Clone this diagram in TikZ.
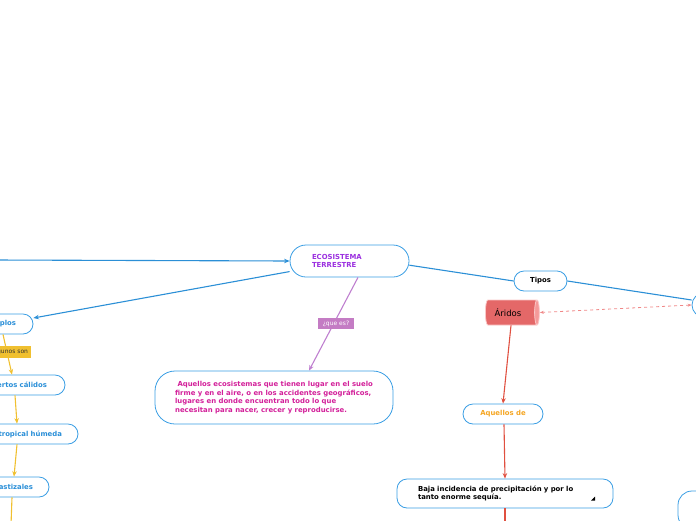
\documentclass[tikz,border=0pt]{standalone}
\usepackage{fontspec}
\setmainfont{DejaVu Sans}
\usetikzlibrary{shapes.geometric,arrows.meta}
\definecolor{bborder}{HTML}{3A9EE4}
\definecolor{bline}{HTML}{2B8FD6}
\definecolor{yline}{HTML}{F0C030}
\definecolor{pline}{HTML}{BF7FCF}
\definecolor{plabel}{HTML}{C47CC4}
\definecolor{maintext}{HTML}{9B30E0}
\definecolor{desctext}{HTML}{D3209A}
\definecolor{btext}{HTML}{2A8FD8}
\definecolor{otext}{HTML}{F5A623}
\definecolor{rline}{HTML}{E05040}
\definecolor{rdash}{HTML}{F08888}
\definecolor{cylbody}{HTML}{E46868}
\definecolor{cylend}{HTML}{F59A9A}
\definecolor{cyldraw}{HTML}{FAC8C8}
\tikzset{
  topic/.style={draw=bborder, line width=0.8pt, fill=white, rounded corners=10pt, inner sep=0pt, font=\bfseries\fontsize{6.9}{8.7}\selectfont},
  arr/.style={-{Stealth[length=5.5pt,width=4.5pt]}},
  conn/.style={line width=1.1pt},
}
\begin{document}
\begin{tikzpicture}[x=1pt,y=-1pt]
\useasboundingbox (0,0) rectangle (696,520);
\clip (0,0) rectangle (696,520);
% nodes
\node[topic, rounded corners=16pt, minimum width=119pt, minimum height=32pt, text width=75pt, align=left, text=maintext] (main) at (349.5,261) {ECOSISTEMA\\TERRESTRE};
\node[topic, minimum width=90pt, minimum height=20pt, text width=56pt, align=right, text=btext] (ej) at (-12,324) {Ejemplos};
\node[topic, minimum width=110pt, minimum height=20pt, text width=74pt, align=right, text=btext] (ds) at (10,385) {Desiertos cálidos};
\node[topic, minimum width=130pt, minimum height=20pt, text width=98pt, align=right, text=btext] (st) at (13,434) {Selva tropical húmeda};
\node[topic, minimum width=80pt, minimum height=20pt, text width=48pt, align=right, text=btext] (pz) at (9,487) {Pastizales};
\node[topic, rounded corners=20pt, minimum width=238pt, minimum height=53pt, align=left, text=desctext] (desc) at (274,397.5) {\ Aquellos ecosistemas que tienen lugar en el suelo\\firme y en el aire, o en los accidentes geográficos,\\lugares en donde encuentran todo lo que\\necesitan para nacer, crecer y reproducirse.};
\node[topic, minimum width=53pt, minimum height=20pt, text=black] (tipos) at (540.5,281) {Tipos};
\node[topic, rounded corners=12pt, minimum width=96pt, minimum height=24pt] (rn) at (740,305) {};
\node[topic, rounded corners=14pt, minimum width=96pt, minimum height=38pt] (br) at (726,510) {};
\node[cylinder, draw=cyldraw, line width=0.8pt, cylinder uses custom fill, cylinder body fill=cylbody, cylinder end fill=cylend, shape aspect=0.6, minimum width=25pt, minimum height=54pt, inner sep=0pt, font=\fontsize{8.5}{10}\selectfont] (ar) at (511,312.5) {Áridos\hspace*{6pt}};
\node[topic, minimum width=80pt, minimum height=20pt, text=otext] (aq) at (503,414) {Aquellos de};
\node[topic, minimum width=216pt, minimum height=29pt, text width=174pt, align=left, text=black] (baja) at (505,493.5) {Baja incidencia de precipitación y por lo\\tanto enorme sequía.};
\fill[black] (595,496.5) -- (595,500.5) -- (591,500.5) -- cycle;
% connectors
\coordinate (lft) at (-5,260);
\draw[bline, conn, arr] (lft) -- (main.west);
\draw[bline, conn, arr] (main.190) -- ([yshift=6pt]ej.east);
\draw[bline, conn] (main.-4) -- (tipos.west);
\draw[bline, conn] (tipos.east) -- ([yshift=5pt]rn.west);
\draw[yline, conn, arr] ([xshift=15pt]ej.south) -- ([xshift=2pt]ds.north);
\draw[yline, conn, arr] ([xshift=5pt]ds.south) -- ([xshift=4pt]st.north);
\draw[yline, conn, arr] ([xshift=4pt]st.south) -- ([xshift=5pt]pz.north);
\coordinate (pzend) at (11,525);
\draw[yline, conn] ([xshift=3pt]pz.south) -- (pzend);
\node[fill=yline, inner sep=0pt, minimum width=46pt, minimum height=12pt, text width=40pt, align=right, font=\fontsize{6}{7}\selectfont, text=black!80] (alg) at (8,352) {Algunos son};
\draw[pline, conn, arr] ([xshift=8.5pt]main.south) -- ([xshift=35pt]desc.north);
\node[fill=plabel, text=white, inner sep=0pt, minimum width=36pt, minimum height=11pt, font=\fontsize{6}{7}\selectfont] (qe) at (336,323.5) {¿que es?};
\draw[rdash, line width=0.8pt, dashed, {Stealth[length=4pt,width=3pt]}-{Stealth[length=4pt,width=3pt]}] (ar.east) -- (rn.west);
\draw[rline, conn, arr] (ar.south) -- (aq.north);
\draw[rline, conn, arr] ([xshift=1pt]aq.south) -- (baja.north);
\coordinate (bajaend) at (505,525);
\draw[rline, conn] (baja.south) -- (bajaend);
\end{tikzpicture}
\end{document}
